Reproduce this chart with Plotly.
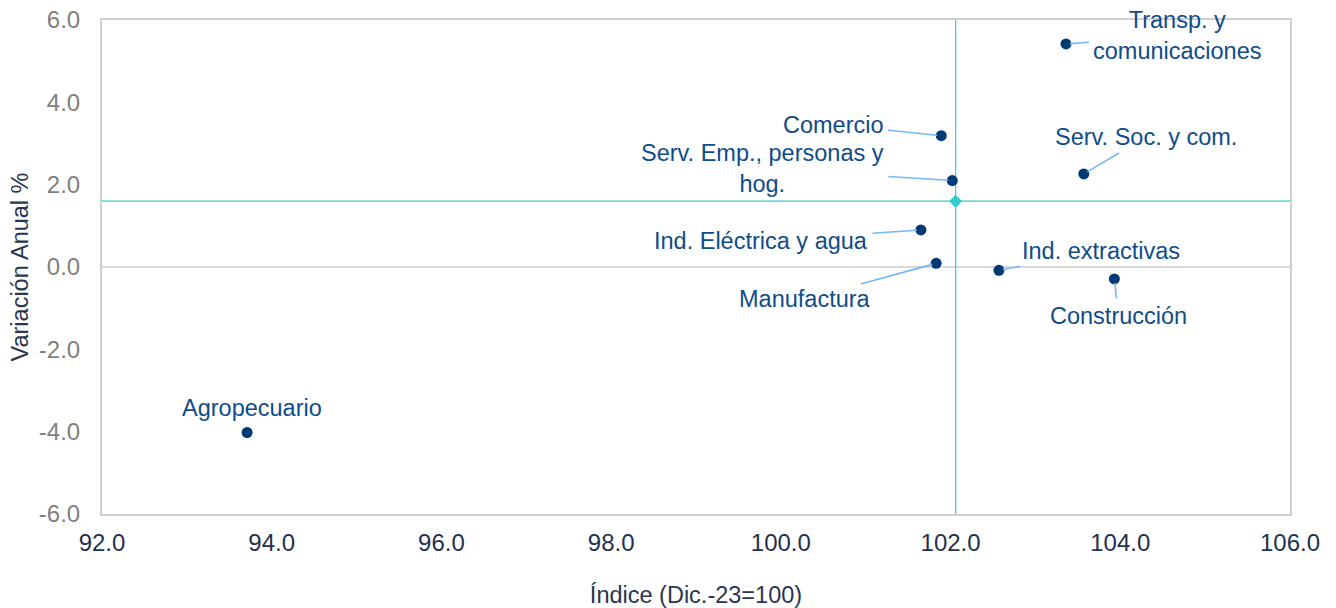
import plotly.graph_objects as go

sectors = ["Agropecuario", "Comercio", "Serv. Emp., personas y<br>hog.",
           "Transp. y<br>comunicaciones", "Serv. Soc. y com.",
           "Ind. Eléctrica y agua", "Manufactura", "Ind. extractivas", "Construcción"]
indice = [93.71, 101.89, 102.02, 103.36, 103.57, 101.65, 101.83, 102.57, 103.93]
variacion = [-4.02, 3.19, 2.10, 5.42, 2.26, 0.90, 0.09, -0.08, -0.29]
mean_x = [102.06]
mean_y = [1.60]
x_ticks = [92, 94, 96, 98, 100, 102, 104, 106]
y_ticks = [-6, -4, -2, 0, 2, 4, 6]

# label offsets in pixels (text centre relative to point)
label_ax = [5, -108, -190, 112, 62, -160, -131, 102, 4]
label_ay = [-24, -11, -12, -8, -37, 11, 36, -19, 37]
label_arrow = [False, True, True, True, True, True, True, True, True]

FONT = "Liberation Sans, Arial, sans-serif"
NAVY = "#0f4c8a"
LEADER = "#74b8f8"
CYAN = "#33cccc"
FS = 23.5

fig = go.Figure()

# mean lines
fig.add_trace(go.Scatter(x=[mean_x[0], mean_x[0]], y=[y_ticks[0], y_ticks[-1]],
                         mode="lines", line=dict(color=CYAN, width=1.2),
                         hoverinfo="skip", showlegend=False))
fig.add_trace(go.Scatter(x=[x_ticks[0], x_ticks[-1]], y=[mean_y[0], mean_y[0]],
                         mode="lines", line=dict(color=CYAN, width=1.2),
                         hoverinfo="skip", showlegend=False))
fig.add_trace(go.Scatter(x=mean_x, y=mean_y, mode="markers",
                         marker=dict(symbol="diamond", size=10, color=CYAN),
                         hoverinfo="skip", showlegend=False))

fig.add_trace(go.Scatter(x=indice, y=variacion, mode="markers", text=sectors,
                         marker=dict(size=11, color="#003a75"),
                         showlegend=False))

for s, x, y, ax, ay, arr in zip(sectors, indice, variacion, label_ax, label_ay, label_arrow):
    if arr:
        fig.add_annotation(x=x, y=y, text=s, showarrow=True, ax=ax, ay=ay,
                           arrowhead=0, arrowwidth=1.6, arrowcolor=LEADER,
                           standoff=4, startstandoff=3,
                           font=dict(family=FONT, size=FS, color=NAVY), align="center")
    else:
        fig.add_annotation(x=x, y=y, text=s, showarrow=False,
                           xshift=ax, yshift=-ay,
                           font=dict(family=FONT, size=FS, color=NAVY), align="center")

fig.update_layout(
    width=1336, height=608,
    margin=dict(l=102, r=46, t=20, b=94),
    paper_bgcolor="white", plot_bgcolor="white",
    font=dict(family=FONT),
    xaxis=dict(range=[x_ticks[0], x_ticks[-1]], tickvals=x_ticks,
               ticktext=[f"{v:.1f}" for v in x_ticks],
               showgrid=False, zeroline=False, showline=True, mirror=True,
               linecolor="#d0d0d0", linewidth=2, ticks="", automargin=False,
               tickfont=dict(family=FONT, size=24, color="#1f3050"),
               ticklabelstandoff=6,
               title=dict(text="Índice (Dic.-23=100)",
                          font=dict(family=FONT, size=FS, color="#2a3550"),
                          standoff=35)),
    yaxis=dict(range=[y_ticks[0], y_ticks[-1]], tickvals=y_ticks,
               ticktext=[f"{v:.1f}" for v in y_ticks],
               showgrid=False, zeroline=True, zerolinecolor="#d9d9d9", zerolinewidth=1.5,
               showline=True, mirror=True,
               linecolor="#d0d0d0", linewidth=2, ticks="", automargin=False,
               tickfont=dict(family=FONT, size=24, color="#7f7f7f"),
               ticklabelstandoff=15,
               title=dict(text="Variación Anual %",
                          font=dict(family=FONT, size=FS, color="#2a3550"),
                          standoff=4)),
)

fig.write_html("out.html")
